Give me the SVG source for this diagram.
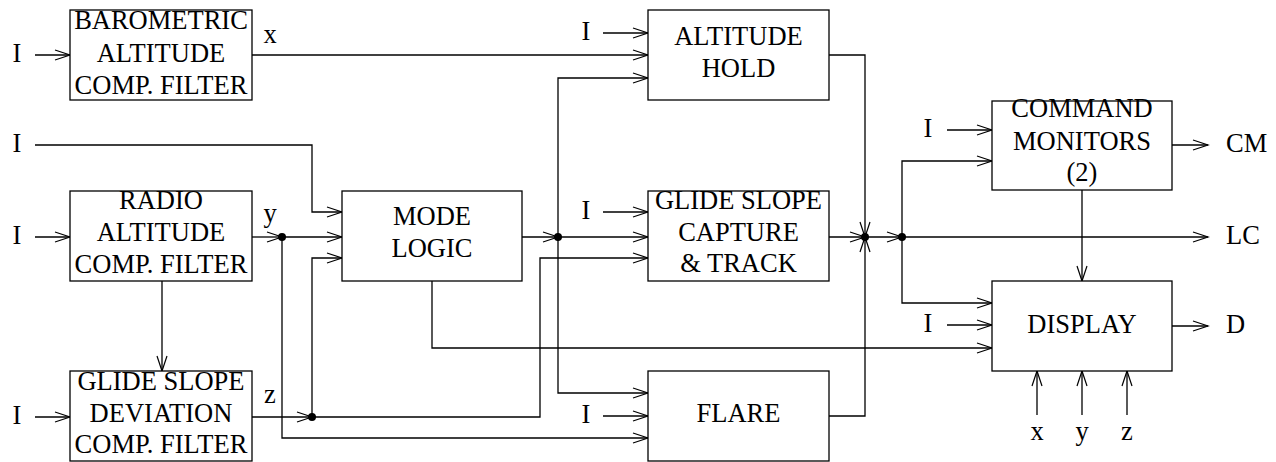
<svg xmlns="http://www.w3.org/2000/svg" width="1276" height="462" viewBox="0 0 1276 462">
<style>
.box{fill:#fff;stroke:#000;stroke-width:1.3}
.ln{fill:none;stroke:#000;stroke-width:1.3}
.arr{marker-end:url(#ah)}
text{font-size:26.5px;fill:#000}
.c{text-anchor:middle}
</style>
<defs>
<marker id="ah" markerUnits="userSpaceOnUse" markerWidth="17" markerHeight="12" refX="15" refY="5.5" orient="auto" overflow="visible">
<path d="M0,0.5 L15,5.5 L0,10.5" fill="none" stroke="#000" stroke-width="1.2"/>
</marker>
</defs>
<rect width="1276" height="462" fill="#fff"/>

<g id="connectors">
<path class="ln arr" d="M35,55 H70"/>
<path class="ln arr" d="M35,237 H70"/>
<path class="ln arr" d="M35,417 H70"/>
<path class="ln arr" d="M35,145 H312 V212 H342"/>
<path class="ln arr" d="M252,55 H648"/>
<path class="ln arr" d="M252,237 H282"/>
<path class="ln arr" d="M282,237 H342"/>
<path class="ln arr" d="M282,237 V438 H648"/>
<path class="ln arr" d="M252,417 H312"/>
<path class="ln arr" d="M312,417 V258 H342"/>
<path class="ln arr" d="M312,417 H540 V258 H648"/>
<path class="ln arr" d="M162,281 V371"/>
<path class="ln arr" d="M522,237 H558"/>
<path class="ln arr" d="M558,237 H648"/>
<path class="ln arr" d="M558,237 V78 H648"/>
<path class="ln arr" d="M558,237 V393 H648"/>
<path class="ln arr" d="M603,33 H648"/>
<path class="ln arr" d="M603,212 H648"/>
<path class="ln arr" d="M603,416 H648"/>
<path class="ln arr" d="M432,281 V348 H992"/>
<path class="ln arr" d="M829,55 H865 V237"/>
<path class="ln arr" d="M829,237 H865"/>
<path class="ln arr" d="M829,416 H865 V237"/>
<path class="ln arr" d="M865,237 H902"/>
<path class="ln arr" d="M902,237 H1208"/>
<path class="ln arr" d="M902,237 V161 H992"/>
<path class="ln arr" d="M902,237 V303 H992"/>
<path class="ln arr" d="M947,130 H992"/>
<path class="ln arr" d="M947,325 H992"/>
<path class="ln arr" d="M1172,145 H1208"/>
<path class="ln arr" d="M1082,190 V281"/>
<path class="ln arr" d="M1172,326 H1208"/>
<path class="ln arr" d="M1037,415 V371"/>
<path class="ln arr" d="M1082,415 V371"/>
<path class="ln arr" d="M1127,415 V371"/>
<circle cx="282" cy="237" r="4"/>
<circle cx="312" cy="417" r="4"/>
<circle cx="558" cy="237" r="4"/>
<circle cx="865" cy="237" r="4"/>
<circle cx="902" cy="237" r="4"/>
</g>

<g font-family="'Liberation Serif', Tinos, 'Times New Roman', Times, 'DejaVu Serif', serif">
<g id="labels">
<text x="17" y="62" class="c">I</text>
<text x="17" y="152" class="c">I</text>
<text x="17" y="244" class="c">I</text>
<text x="17" y="424" class="c">I</text>
<text x="270" y="43" class="c">x</text>
<text x="270" y="222" class="c">y</text>
<text x="270" y="403" class="c">z</text>
<text x="586" y="40" class="c">I</text>
<text x="586" y="219" class="c">I</text>
<text x="586" y="423" class="c">I</text>
<text x="928" y="137" class="c">I</text>
<text x="928" y="332" class="c">I</text>
<text x="1226" y="152">CM</text>
<text x="1226" y="244">LC</text>
<text x="1226" y="333">D</text>
<text x="1037" y="440" class="c">x</text>
<text x="1082" y="440" class="c">y</text>
<text x="1127" y="440" class="c">z</text>
</g>

<g id="baro">
<rect class="box" x="70" y="10" width="182" height="90"/>
<text class="c" x="161" y="29">BAROMETRIC</text>
<text class="c" x="161" y="62">ALTITUDE</text>
<text class="c" x="161" y="94">COMP. FILTER</text>
</g>
<g id="radio">
<rect class="box" x="70" y="191" width="182" height="90"/>
<text class="c" x="161" y="209">RADIO</text>
<text class="c" x="161" y="241">ALTITUDE</text>
<text class="c" x="161" y="273">COMP. FILTER</text>
</g>
<g id="gsdev">
<rect class="box" x="70" y="371" width="182" height="90"/>
<text class="c" x="161" y="390">GLIDE SLOPE</text>
<text class="c" x="161" y="422">DEVIATION</text>
<text class="c" x="161" y="453">COMP. FILTER</text>
</g>
<g id="mode">
<rect class="box" x="342" y="191" width="180" height="90"/>
<text class="c" x="432" y="225">MODE</text>
<text class="c" x="432" y="257">LOGIC</text>
</g>
<g id="althold">
<rect class="box" x="648" y="10" width="181" height="90"/>
<text class="c" x="738.5" y="45">ALTITUDE</text>
<text class="c" x="738.5" y="77">HOLD</text>
</g>
<g id="gscap">
<rect class="box" x="648" y="191" width="181" height="90"/>
<text class="c" x="738.5" y="209">GLIDE SLOPE</text>
<text class="c" x="738.5" y="241">CAPTURE</text>
<text class="c" x="738.5" y="272">&amp; TRACK</text>
</g>
<g id="flare">
<rect class="box" x="648" y="371" width="181" height="90"/>
<text class="c" x="738.5" y="422">FLARE</text>
</g>
<g id="cmdmon">
<rect class="box" x="992" y="101" width="180" height="89"/>
<text class="c" x="1082" y="117">COMMAND</text>
<text class="c" x="1082" y="150">MONITORS</text>
<text class="c" x="1082" y="181">(2)</text>
</g>
<g id="display">
<rect class="box" x="992" y="281" width="180" height="90"/>
<text class="c" x="1082" y="333">DISPLAY</text>
</g>
</g>
</svg>
